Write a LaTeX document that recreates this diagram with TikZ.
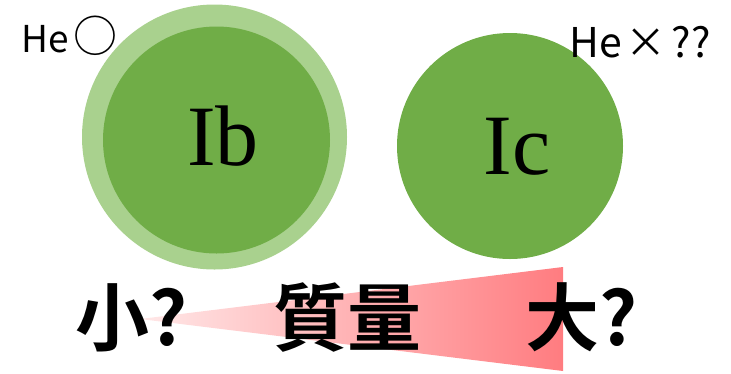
\documentclass[tikz,border=0pt]{standalone}
\usepackage{fontspec}
\newfontfamily\cjk{Noto Sans CJK JP}
\newfontfamily\cjkbold{Noto Sans CJK JP Bold}
\newfontfamily\serifnt{Liberation Serif}
\definecolor{ringgreen}{HTML}{A9D18E}
\definecolor{coregreen}{HTML}{70AD47}
\definecolor{pinklight}{HTML}{FFE8E8}
\definecolor{pinkdark}{HTML}{FF7C80}
\tikzset{
  label/.style={inner sep=0pt, anchor=base west, font=\cjk\fontsize{37}{40}\selectfont},
  big/.style={inner sep=0pt, anchor=base west, font=\cjkbold\fontsize{74}{78}\selectfont},
  core/.style={inner sep=0pt, anchor=base, font=\serifnt\fontsize{86}{90}\selectfont}
}
\begin{document}
\begin{tikzpicture}[x=1pt,y=-1pt]
\useasboundingbox (0,0) rectangle (731,373);
% circles
\fill[ringgreen] (214.5,137) circle (132.5);
\fill[coregreen] (216.5,140) circle (113.5);
\fill[coregreen] (510,146) circle (113);
% wedge
\shade[left color=pinklight, right color=pinkdark] (140,319) -- (563,267) -- (563,371) -- cycle;
% texts
\node[core] (ib) at (223,165) {Ib};
\node[core] (ic) at (517,174) {Ic};
\node[label] (he1) at (21,52) {He\kern5pt{\fontsize{44}{44}\selectfont ○}};
\node[label, font=\cjk\fontsize{41}{44}\selectfont] (he2) at (569,57) {He\kern4pt×\kern5pt??};
\node[big] (small) at (75,345) {小?};
\node[big] (mass) at (273,345) {質量};
\node[big] (large) at (525,345) {大?};
\end{tikzpicture}
\end{document}
